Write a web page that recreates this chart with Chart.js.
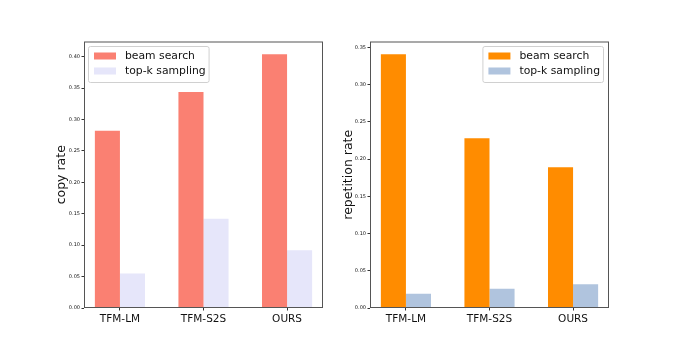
<!DOCTYPE html>
<html>
<head>
<meta charset="utf-8">
<script src="https://cdn.jsdelivr.net/npm/chart.js@4/dist/chart.umd.min.js"></script>
<style>
  html, body { margin: 0; padding: 0; background: #fff; }
  #wrap { position: relative; width: 677px; height: 347px; }
  #copyChart { position: absolute; left: 0; top: 0; }
  #repChart { position: absolute; left: 338px; top: 0; }
</style>
</head>
<body>
<div id="wrap">
  <canvas id="copyChart" width="338" height="347"></canvas>
  <canvas id="repChart" width="339" height="347"></canvas>
</div>
<script>
const models = ['TFM-LM', 'TFM-S2S', 'OURS'];
const seriesNames = ['beam search', 'top-k sampling'];

// copy rate (left)
const copyBeam = [0.282, 0.344, 0.404];
const copyTopk = [0.055, 0.142, 0.092];

// repetition rate (right)
const repBeam = [0.341, 0.228, 0.189];
const repTopk = [0.019, 0.026, 0.032];

const yTicks = [0, 0.05, 0.10, 0.15, 0.20, 0.25, 0.30, 0.35, 0.40];

const FONT = 'DejaVu Sans, sans-serif';

// frame around the plot area, like matplotlib's spines
const framePlugin = {
  id: 'frame',
  afterDatasetsDraw(chart) {
    const {ctx, chartArea: a} = chart;
    ctx.save();
    ctx.strokeStyle = '#555';
    ctx.lineWidth = 1;
    ctx.strokeRect(a.left + 0.5, a.top + 0.5, a.right - a.left - 1, a.bottom - a.top - 1);
    ctx.restore();
  }
};

// legend box drawn inside the plot area
const boxLegend = {
  id: 'boxLegend',
  afterDraw(chart, args, opts) {
    const {ctx, chartArea: a} = chart;
    const sets = chart.data.datasets;
    ctx.save();
    ctx.font = '10.8px ' + FONT;
    const textW = Math.max(...sets.map(d => ctx.measureText(d.label).width));
    const w = 5 + 22 + 8 + textW + 5;
    const h = 36;
    const x = opts.side === 'right' ? a.right - 6 - w : a.left + 4;
    const y = a.top + 4.5;
    ctx.beginPath();
    ctx.roundRect(x + 0.5, y + 0.5, w, h, 2);
    ctx.fillStyle = 'rgba(255,255,255,0.85)';
    ctx.fill();
    ctx.strokeStyle = '#d0d0d0';
    ctx.lineWidth = 1;
    ctx.stroke();
    sets.forEach((d, i) => {
      const cy = y + 10 + i * 15;
      ctx.fillStyle = d.backgroundColor;
      ctx.fillRect(x + 6, cy - 3.5, 22, 7);
      ctx.fillStyle = '#111';
      ctx.textBaseline = 'middle';
      ctx.textAlign = 'left';
      ctx.fillText(d.label, x + 37, cy);
    });
    ctx.restore();
  }
};

const makeChart = (canvasId, title, beam, topk, colors, pad, yWidth, side) => {
  const ctx = document.getElementById(canvasId).getContext('2d');
  const yMax = Math.max(...beam, ...topk) * 1.05;
  return new Chart(ctx, {
    type: 'bar',
    data: {
      datasets: [
        { label: seriesNames[0], data: beam.map((v, i) => ({x: i, y: v})), backgroundColor: colors[0] },
        { label: seriesNames[1], data: topk.map((v, i) => ({x: i, y: v})), backgroundColor: colors[1] }
      ]
    },
    options: {
      responsive: false,
      animation: false,
      layout: { padding: pad },
      categoryPercentage: 0.6,
      barPercentage: 1.0,
      plugins: {
        legend: { display: false },
        tooltip: { enabled: false },
        boxLegend: { side }
      },
      scales: {
        x: {
          type: 'linear',
          offset: false,
          min: -0.43,
          max: 2.43,
          afterBuildTicks: (axis) => { axis.ticks = models.map((m, i) => ({value: i})); },
          afterFit: (axis) => { axis.height = 39; },
          ticks: {
            callback: (v) => models[v],
            font: { family: FONT, size: 10.5 },
            color: '#111',
            padding: 2,
            maxRotation: 0,
            autoSkip: false
          },
          grid: { offset: false, drawOnChartArea: false, tickLength: 2.5, color: '#333' },
          border: { display: false }
        },
        y: {
          min: 0,
          max: yMax,
          afterBuildTicks: (axis) => { axis.ticks = yTicks.filter(t => t <= yMax).map(t => ({value: t})); },
          afterFit: (axis) => { axis.width = yWidth; },
          ticks: {
            callback: (v) => Number(v).toFixed(2),
            font: { family: FONT, size: 5 },
            color: '#111',
            padding: 1.5
          },
          grid: { drawOnChartArea: false, tickLength: 2.5, color: '#333' },
          border: { display: false },
          title: {
            display: true,
            text: title,
            font: { family: FONT, size: 12.5 },
            color: '#111',
            padding: 0
          }
        }
      }
    },
    plugins: [framePlugin, boxLegend]
  });
};

makeChart('copyChart', 'copy rate', copyBeam, copyTopk, ['#FA8072', '#E6E6FA'],
  { left: 54.5, right: 15, top: 41.5, bottom: 0 }, 29.5, 'left');
makeChart('repChart', 'repetition rate', repBeam, repTopk, ['#FF8C00', '#B0C4DE'],
  { left: 3.5, right: 68, top: 41.5, bottom: 0 }, 28.5, 'right');
</script>
</body>
</html>
